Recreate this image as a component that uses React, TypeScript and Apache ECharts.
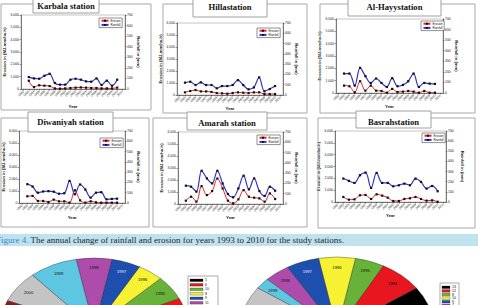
import React, { useEffect, useRef } from "react";
import * as echarts from "echarts";

// Category ticks on every station chart
const yearTicks = [
  "1992", "1993", "1994", "1995", "1996", "1997", "1998", "1999", "2000", "2001",
  "2002", "2003", "2004", "2005", "2006", "2007", "2008", "2009", "2010", "2011",
];

// Annual erosion (MJ-mm/ha-h) and rainfall (mm), 1993 to 2010
const karbalaErosion = [670, 160, 300, 270, 240, 50, 30, 50, 80, 110, 130, 110, 80, 80, 50, 50, 50, 110];
const karbalaRainfall = [113, 100, 97, 125, 144, 57, 41, 41, 88, 97, 88, 72, 69, 100, 38, 79, 31, 88];

const hillaErosion = [220, 330, 415, 300, 300, 250, 165, 140, 110, 165, 220, 190, 165, 220, 220, 80, 80, 80];
const hillaRainfall = [120, 129, 97, 123, 97, 97, 65, 87, 87, 97, 145, 97, 55, 74, 171, 36, 58, 87];

const alHayyErosion = [600, 546, 55, 955, 190, 600, 190, 165, 27, 330, 80, 110, 165, 110, 27, 165, 27, 27];
const alHayyRainfall = [184, 184, 70, 238, 159, 95, 137, 95, 57, 140, 64, 76, 111, 184, 57, 95, 89, 86];

const diwaniyahErosion = [560, 590, 170, 170, 85, 280, 140, 140, 30, 1060, 220, 30, 140, 55, 30, 30, 30, 30];
const diwaniyahRainfall = [183, 160, 100, 112, 115, 110, 90, 95, 215, 85, 180, 130, 52, 100, 105, 36, 40, 42];

const amarahErosion = [276, 607, 193, 1490, 745, 1076, 2125, 1297, 276, 55, 386, 1159, 607, 525, 469, 193, 883, 414];
const amarahRainfall = [178, 168, 120, 323, 249, 200, 323, 200, 97, 65, 152, 275, 142, 249, 126, 78, 168, 129];

const basrahErosion = [425, 200, 226, 566, 594, 255, 650, 538, 368, 85, 85, 255, 311, 425, 255, 113, 141, 20];
const basrahRainfall = [231, 208, 188, 264, 290, 139, 287, 188, 188, 155, 165, 181, 165, 231, 198, 132, 158, 106];

// Pie charts: share of each year
const pieYears = [
  "1993", "1994", "1995", "1996", "1997", "1998", "1999", "2000", "2001",
  "2002", "2003", "2004", "2005", "2006", "2007", "2008", "2009", "2010",
];
const leftPieValues = [5, 6, 10, 8, 9, 11, 15, 13, 12, 10, 11, 9, 10, 12, 8, 11, 10, 10];
const rightPieValues = [13, 12, 8, 10, 9, 7, 4, 12, 9, 8, 10, 9, 8, 10, 9, 8, 9, 9];

const pieColors = [
  "#000000", "#e8161e", "#68b23a", "#f6f233", "#1f4fae", "#ad4caa", "#5fc6e2", "#c4c4c4", "#8a1c1c",
  "#7f7f2a", "#1c2f7a", "#2a8a8a", "#d89a3a", "#6a3d9a", "#9ac4e8", "#e87c7c", "#4a7a2a", "#d4c060",
];
const pieLabelColors = ["#fff", "#111", "#111", "#111", "#e8e8ff", "#111", "#111", "#111", "#fff"];

const SANS = "Liberation Sans, Arial, sans-serif";
const SERIF = "Liberation Serif, Times New Roman, serif";
const VIEW_H = 305;

type Panel = {
  title: string;
  erosion: number[];
  rainfall: number[];
  grid: [number, number, number, number];
  frame: [number, number, number, number];
  box: [number, number, number, number];
  titleY: number;
  legend: [number, number];
  gaps: [number, number, number];
};

const panels: Panel[] = [
  { title: "Karbala station", erosion: karbalaErosion, rainfall: karbalaRainfall, grid: [21, 15, 104, 74], frame: [1, 4, 150, 106], box: [33, -1, 66, 14], titleY: 6, legend: [99, 18], gaps: [8, 9, 15] },
  { title: "Hillastation", erosion: hillaErosion, rainfall: hillaRainfall, grid: [177, 23, 106, 72], frame: [163, 4, 144, 109], box: [193, -1, 74, 18], titleY: 7, legend: [257, 28], gaps: [7, 9, 10] },
  { title: "Al-Hayystation", erosion: alHayyErosion, rainfall: alHayyRainfall, grid: [336, 19, 107, 74], frame: [320, 4, 155, 109], box: [348, -1, 93, 17], titleY: 7, legend: [421, 21], gaps: [7, 6, 11] },
  { title: "Diwaniyah station", erosion: diwaniyahErosion, rainfall: diwaniyahRainfall, grid: [18, 131, 107, 72], frame: [1, 118, 148, 109], box: [28, 112, 85, 20], titleY: 122, legend: [100, 138], gaps: [6, 9, 12] },
  { title: "Amarah station", erosion: amarahErosion, rainfall: amarahRainfall, grid: [178, 132, 105, 72], frame: [153, 118, 154, 109], box: [187, 112, 80, 18], titleY: 123, legend: [257, 135], gaps: [6, 9, 11] },
  { title: "Basrahstation", erosion: basrahErosion, rainfall: basrahRainfall, grid: [335, 131, 111, 71], frame: [318, 118, 157, 110], box: [356, 111, 75, 17], titleY: 122, legend: [422, 133], gaps: [7, 14, 10] },
];

const pad = (v: number[]) => [null, ...v, null];

const tickLabel = { fontSize: 3.4, color: "#222", fontFamily: SANS, margin: 2 };
const axisLine = { show: true, lineStyle: { color: "#333", width: 0.6 } };
const axisTick = { show: true, length: 1.5, lineStyle: { color: "#333", width: 0.5 } };
const nameStyle = { fontSize: 4.2, fontWeight: "bold" as const, color: "#111", fontFamily: SANS };

function pieSeries(values: number[], cx: number, cy: number, rx: number, ry: number, startDeg: number) {
  const total = values.reduce((a, b) => a + b, 0);
  const rad = Math.PI / 180;
  return {
    type: "custom",
    coordinateSystem: "none",
    silent: true,
    data: values,
    renderItem: (params: any, api: any) => {
      const i = params.dataIndex;
      let before = 0;
      for (let j = 0; j < i; j++) before += values[j];
      const a0 = startDeg + (before / total) * 360;
      const a1 = a0 + (api.value(0) / total) * 360;
      const mid = ((a0 + a1) / 2) * rad;
      const tx = cx + 0.86 * rx * Math.cos(mid);
      const ty = cy - 0.86 * ry * Math.sin(mid);
      const children: any[] = [
        {
          type: "group",
          x: cx,
          y: cy,
          scaleY: ry / rx,
          children: [
            {
              type: "sector",
              shape: { cx: 0, cy: 0, r: rx, r0: 0, startAngle: -a1 * rad, endAngle: -a0 * rad, clockwise: true },
              style: { fill: pieColors[i], stroke: "#1a1a1a", lineWidth: 0.4, strokeNoScale: true },
            },
          ],
        },
      ];
      // year labels only where the slice face is on the page
      if (ty < VIEW_H - 3) {
        children.push({
          type: "text",
          x: tx,
          y: ty,
          style: {
            text: pieYears[i],
            fontSize: 4.2,
            fontFamily: SANS,
            fill: pieLabelColors[i] || "#111",
            align: "center",
            verticalAlign: "middle",
          },
        });
      }
      return { type: "group", children };
    },
  };
}

function pieLegend(values: number[], x: number, y: number, w: number, step: number, swatchW: number) {
  const children: any[] = [
    { type: "rect", shape: { x: 0, y: 0, width: w, height: step * values.length + 4 }, style: { fill: "#fff", stroke: "#555", lineWidth: 0.5 } },
  ];
  values.forEach((v, i) => {
    const ry = 3 + i * step;
    if (y + ry > VIEW_H - 1) return;
    children.push({ type: "rect", shape: { x: 2, y: ry, width: swatchW, height: 2.6 }, style: { fill: pieColors[i], stroke: "#222", lineWidth: 0.3 } });
    children.push({
      type: "text",
      x: swatchW + 4,
      y: ry + 1.3,
      style: { text: String(v), fontSize: 3.6, fontFamily: SANS, fill: "#111", verticalAlign: "middle" },
    });
  });
  return { type: "group", x, y, children };
}

function buildOption() {
  const grid: any[] = [];
  const xAxis: any[] = [];
  const yAxis: any[] = [];
  const series: any[] = [];
  const legend: any[] = [];
  const graphic: any[] = [];

  panels.forEach((p, i) => {
    const [left, top, width, height] = p.grid;
    grid.push({ left, top, width, height, show: true, borderColor: "#888", borderWidth: 0.5, backgroundColor: "transparent" });
    xAxis.push({
      type: "category",
      gridIndex: i,
      data: yearTicks,
      boundaryGap: true,
      axisLine,
      axisTick: { ...axisTick, alignWithLabel: true },
      axisLabel: { ...tickLabel, interval: 0, rotate: 45, fontSize: 3.2 },
      name: "Year",
      nameLocation: "middle",
      nameGap: p.gaps[2],
      nameTextStyle: nameStyle,
    });
    yAxis.push({
      type: "value",
      gridIndex: i,
      position: "left",
      min: 0,
      max: 6000,
      interval: 1000,
      axisLine,
      axisTick,
      axisLabel: tickLabel,
      splitLine: { show: false },
      name: "Erosion in (MJ-mm/ha-h)",
      nameLocation: "middle",
      nameRotate: 90,
      nameGap: p.gaps[0],
      nameTextStyle: nameStyle,
    });
    yAxis.push({
      type: "value",
      gridIndex: i,
      position: "right",
      min: 0,
      max: 700,
      interval: 100,
      axisLine,
      axisTick,
      axisLabel: tickLabel,
      splitLine: { show: false },
      name: "Rainfall in (mm)",
      nameLocation: "middle",
      nameRotate: -90,
      nameGap: p.gaps[1],
      nameTextStyle: nameStyle,
    });
    const common = { type: "line", xAxisIndex: i, smooth: 0.35, symbol: "rect", symbolSize: 2.2, itemStyle: { color: "#111" } };
    series.push({ ...common, name: "Erosion", yAxisIndex: 2 * i, data: pad(p.erosion), lineStyle: { color: "#e3222a", width: 1 } });
    series.push({ ...common, name: "Rainfall", yAxisIndex: 2 * i + 1, data: pad(p.rainfall), lineStyle: { color: "#3434c6", width: 1.2 } });
    legend.push({
      left: p.legend[0],
      top: p.legend[1],
      orient: "vertical",
      data: ["Erosion", "Rainfall"],
      itemWidth: 7,
      itemHeight: 2.4,
      itemGap: 1.2,
      padding: [1.2, 1.5, 1.2, 1.5],
      borderColor: "#222",
      borderWidth: 0.5,
      backgroundColor: "#fff",
      textStyle: { fontSize: 3, color: "#111", fontFamily: SANS, padding: [0, 0, 0, -3] },
      selectedMode: false,
    });

    const [fx, fy, fw, fh] = p.frame;
    graphic.push({ type: "rect", z: 1, shape: { x: fx, y: fy, width: fw, height: fh }, style: { fill: "none", stroke: "#a9a9a9", lineWidth: 1 } });
    const [bx, by, bw, bh] = p.box;
    graphic.push({ type: "rect", z: 2, shape: { x: bx, y: by, width: bw, height: bh }, style: { fill: "#fff", stroke: "#a0a0a0", lineWidth: 1 } });
    graphic.push({
      type: "text",
      z: 3,
      x: bx + bw / 2,
      y: p.titleY,
      style: { text: p.title, fontSize: 8.6, fontWeight: "bold", fontFamily: SERIF, fill: "#111", align: "center", verticalAlign: "middle" },
    });
  });

  // Caption strip
  graphic.push({ type: "rect", z: 1, shape: { x: 0, y: 234, width: 478, height: 12 }, style: { fill: "#bfe2ee" } });
  graphic.push({
    type: "text",
    z: 2,
    x: -4,
    y: 240,
    style: {
      text: "{f|Figure 4.} The annual change of rainfall and erosion for years 1993 to 2010 for the study stations.",
      fontSize: 9,
      fontFamily: SERIF,
      fill: "#262626",
      verticalAlign: "middle",
      rich: { f: { fill: "#2e8ccb", fontSize: 9, fontFamily: SERIF } },
    },
  });

  graphic.push(pieLegend(leftPieValues, 188, 276, 30, 4.5, 13));
  graphic.push(pieLegend(rightPieValues, 440, 283, 19, 3.6, 8));

  series.push(pieSeries(leftPieValues, 94, 328, 94, 70, 3));
  series.push(pieSeries(rightPieValues, 337, 330, 97, 73, 6.6));

  return {
    animation: false,
    backgroundColor: "#fff",
    textStyle: { fontFamily: SANS },
    grid,
    xAxis,
    yAxis,
    legend,
    series,
    graphic,
  };
}

export default function App() {
  const ref = useRef<HTMLDivElement>(null);
  useEffect(() => {
    document.body.style.margin = "0";
    if (!ref.current) return;
    const chart = echarts.init(ref.current, undefined, { renderer: "svg" });
    chart.setOption(buildOption() as any);
    return () => chart.dispose();
  }, []);
  return <div ref={ref} style={{ width: 478, height: 305, overflow: "hidden" }} />;
}
